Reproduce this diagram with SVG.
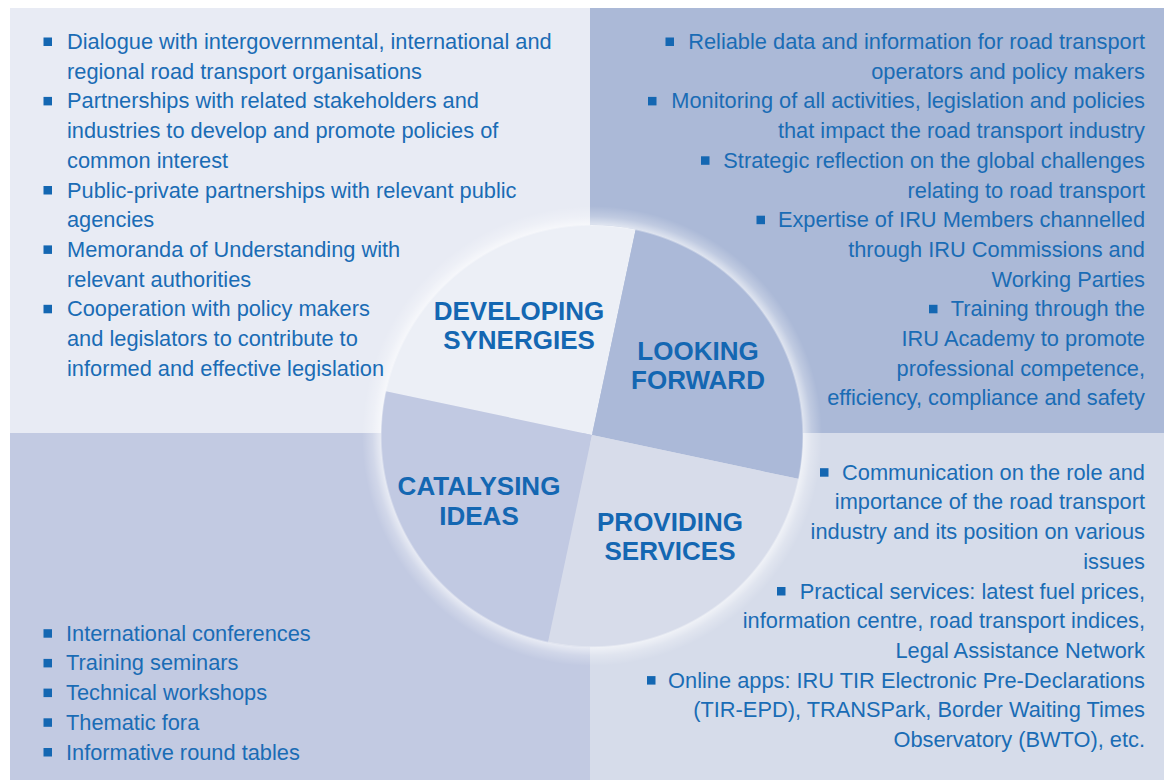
<svg xmlns="http://www.w3.org/2000/svg" width="1164" height="780" viewBox="0 0 1164 780">
<defs>
<style>
.t{font-family:"Liberation Sans",Arial,Helvetica,sans-serif;font-size:21.8px;fill:#1a6cb5}
.r{text-anchor:end}
.h{font-family:"Liberation Sans",Arial,Helvetica,sans-serif;font-size:26px;font-weight:bold;fill:#1467b2;text-anchor:middle}
.b{fill:#1467b2}
</style>
<clipPath id="cc"><circle cx="592" cy="436" r="211"/></clipPath>
<radialGradient id="glow" gradientUnits="userSpaceOnUse" cx="592" cy="436" r="230">
<stop offset="0" stop-color="#fff" stop-opacity="0"/>
<stop offset="0.912" stop-color="#fff" stop-opacity="0"/>
<stop offset="0.92" stop-color="#fff" stop-opacity="0.6"/>
<stop offset="0.955" stop-color="#fff" stop-opacity="0.25"/>
<stop offset="1" stop-color="#fff" stop-opacity="0"/>
</radialGradient>
</defs>
<rect width="1164" height="780" fill="#ffffff"/>
<g id="backgrounds">
<rect x="10" y="8" width="580" height="425" fill="#e8ebf4"/>
<rect x="590" y="8" width="574" height="425" fill="#abb9d7"/>
<rect x="10" y="433" width="580" height="347" fill="#c2cae2"/>
<rect x="590" y="433" width="574" height="347" fill="#d6dcea"/>
</g>
<g id="wheel">
<g clip-path="url(#cc)">
<g transform="rotate(12 592 435)">
<rect x="342" y="185" width="250" height="250" fill="#eceff6"/>
<rect x="592" y="185" width="250" height="250" fill="#abb9d8"/>
<rect x="342" y="435" width="250" height="250" fill="#c1c9e2"/>
<rect x="592" y="435" width="250" height="250" fill="#d7dcea"/>
</g>
</g>
<circle cx="592" cy="436" r="230" fill="url(#glow)"/>
</g>
<g id="developing-synergies">
<text class="h" x="519" y="320">DEVELOPING</text>
<text class="h" x="519" y="349">SYNERGIES</text>
<rect class="b" x="43.5" y="37.5" width="8.5" height="8.5"/>
<rect class="b" x="43.5" y="96.9" width="8.5" height="8.5"/>
<rect class="b" x="43.5" y="186" width="8.5" height="8.5"/>
<rect class="b" x="43.5" y="245.4" width="8.5" height="8.5"/>
<rect class="b" x="43.5" y="304.8" width="8.5" height="8.5"/>
<text class="t" x="67" y="49">Dialogue with intergovernmental, international and</text>
<text class="t" x="67" y="78.7">regional road transport organisations</text>
<text class="t" x="67" y="108.4">Partnerships with related stakeholders and</text>
<text class="t" x="67" y="138.1">industries to develop and promote policies of</text>
<text class="t" x="67" y="167.8">common interest</text>
<text class="t" x="67" y="197.5">Public-private partnerships with relevant public</text>
<text class="t" x="67" y="227.2">agencies</text>
<text class="t" x="67" y="256.9">Memoranda of Understanding with</text>
<text class="t" x="67" y="286.6">relevant authorities</text>
<text class="t" x="67" y="316.3">Cooperation with policy makers</text>
<text class="t" x="67" y="346">and legislators to contribute to</text>
<text class="t" x="67" y="375.7">informed and effective legislation</text>
</g>
<g id="looking-forward">
<text class="h" x="698" y="359.5">LOOKING</text>
<text class="h" x="698" y="388.5">FORWARD</text>
<rect class="b" x="665.5" y="37.5" width="8.5" height="8.5"/>
<rect class="b" x="648" y="96.9" width="8.5" height="8.5"/>
<rect class="b" x="701" y="156.3" width="8.5" height="8.5"/>
<rect class="b" x="756.5" y="215.7" width="8.5" height="8.5"/>
<rect class="b" x="929" y="304.8" width="8.5" height="8.5"/>
<text class="t r" x="1145" y="49">Reliable data and information for road transport</text>
<text class="t r" x="1145" y="78.7">operators and policy makers</text>
<text class="t r" x="1145" y="108.4">Monitoring of all activities, legislation and policies</text>
<text class="t r" x="1145" y="138.1">that impact the road transport industry</text>
<text class="t r" x="1145" y="167.8">Strategic reflection on the global challenges</text>
<text class="t r" x="1145" y="197.5">relating to road transport</text>
<text class="t r" x="1145" y="227.2">Expertise of IRU Members channelled</text>
<text class="t r" x="1145" y="256.9">through IRU Commissions and</text>
<text class="t r" x="1145" y="286.6">Working Parties</text>
<text class="t r" x="1145" y="316.3">Training through the</text>
<text class="t r" x="1145" y="346">IRU Academy to promote</text>
<text class="t r" x="1145" y="375.7">professional competence,</text>
<text class="t r" x="1145" y="405.4">efficiency, compliance and safety</text>
</g>
<g id="catalysing-ideas">
<text class="h" x="479" y="495">CATALYSING</text>
<text class="h" x="479" y="525">IDEAS</text>
<rect class="b" x="43.5" y="629.2" width="8.5" height="8.5"/>
<rect class="b" x="43.5" y="658.9" width="8.5" height="8.5"/>
<rect class="b" x="43.5" y="688.6" width="8.5" height="8.5"/>
<rect class="b" x="43.5" y="718.3" width="8.5" height="8.5"/>
<rect class="b" x="43.5" y="748" width="8.5" height="8.5"/>
<text class="t" x="66" y="640.7">International conferences</text>
<text class="t" x="66" y="670.4">Training seminars</text>
<text class="t" x="66" y="700.1">Technical workshops</text>
<text class="t" x="66" y="729.8">Thematic fora</text>
<text class="t" x="66" y="759.5">Informative round tables</text>
</g>
<g id="providing-services">
<text class="h" x="670" y="531">PROVIDING</text>
<text class="h" x="670" y="560">SERVICES</text>
<rect class="b" x="820" y="468.2" width="8.5" height="8.5"/>
<rect class="b" x="777" y="587" width="8.5" height="8.5"/>
<rect class="b" x="647" y="676.1" width="8.5" height="8.5"/>
<text class="t r" x="1145" y="479.7">Communication on the role and</text>
<text class="t r" x="1145" y="509.4">importance of the road transport</text>
<text class="t r" x="1145" y="539.1">industry and its position on various</text>
<text class="t r" x="1145" y="568.8">issues</text>
<text class="t r" x="1145" y="598.5">Practical services: latest fuel prices,</text>
<text class="t r" x="1145" y="628.2">information centre, road transport indices,</text>
<text class="t r" x="1145" y="657.9">Legal Assistance Network</text>
<text class="t r" x="1145" y="687.6">Online apps: IRU TIR Electronic Pre-Declarations</text>
<text class="t r" x="1145" y="717.3">(TIR-EPD), TRANSPark, Border Waiting Times</text>
<text class="t r" x="1145" y="747">Observatory (BWTO), etc.</text>
</g>
</svg>
